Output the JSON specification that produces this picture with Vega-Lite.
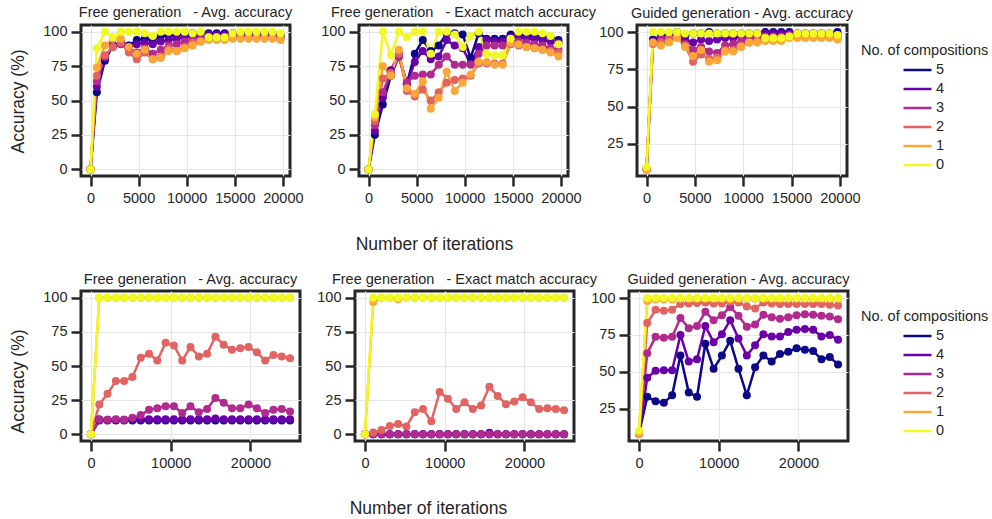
{
"$schema":"https://vega.github.io/schema/vega-lite/v6.json",
"autosize":{"type":"pad"},
"padding":{"left":7,"top":3,"right":0,"bottom":0},
"background":"white",
"datasets":{
"a":[
{"n":5,"x":0,"y":0},{"n":5,"x":660,"y":56},{"n":5,"x":1490,"y":79},{"n":5,"x":2320,"y":90},{"n":5,"x":3150,"y":92},{"n":5,"x":3980,"y":90},{"n":5,"x":4810,"y":94},{"n":5,"x":5640,"y":95},{"n":5,"x":6470,"y":94},{"n":5,"x":7300,"y":97},{"n":5,"x":8130,"y":97},{"n":5,"x":8960,"y":98},{"n":5,"x":9790,"y":98},{"n":5,"x":10620,"y":99},{"n":5,"x":11450,"y":99},{"n":5,"x":12280,"y":99},{"n":5,"x":13110,"y":99},{"n":5,"x":13940,"y":99},{"n":5,"x":14770,"y":99},{"n":5,"x":15600,"y":99},{"n":5,"x":16430,"y":99},{"n":5,"x":17260,"y":99},{"n":5,"x":18090,"y":99},{"n":5,"x":18920,"y":99},{"n":5,"x":19750,"y":98},
{"n":4,"x":0,"y":0},{"n":4,"x":660,"y":60},{"n":4,"x":1490,"y":81},{"n":4,"x":2320,"y":90},{"n":4,"x":3150,"y":92},{"n":4,"x":3980,"y":89},{"n":4,"x":4810,"y":91},{"n":4,"x":5640,"y":92},{"n":4,"x":6470,"y":91},{"n":4,"x":7300,"y":93},{"n":4,"x":8130,"y":94},{"n":4,"x":8960,"y":95},{"n":4,"x":9790,"y":96},{"n":4,"x":10620,"y":97},{"n":4,"x":11450,"y":97},{"n":4,"x":12280,"y":98},{"n":4,"x":13110,"y":98},{"n":4,"x":13940,"y":98},{"n":4,"x":14770,"y":98},{"n":4,"x":15600,"y":98},{"n":4,"x":16430,"y":98},{"n":4,"x":17260,"y":98},{"n":4,"x":18090,"y":98},{"n":4,"x":18920,"y":98},{"n":4,"x":19750,"y":97},
{"n":3,"x":0,"y":0},{"n":3,"x":660,"y":64},{"n":3,"x":1490,"y":82},{"n":3,"x":2320,"y":89},{"n":3,"x":3150,"y":91},{"n":3,"x":3980,"y":87},{"n":3,"x":4810,"y":85},{"n":3,"x":5640,"y":88},{"n":3,"x":6470,"y":84},{"n":3,"x":7300,"y":87},{"n":3,"x":8130,"y":90},{"n":3,"x":8960,"y":91},{"n":3,"x":9790,"y":93},{"n":3,"x":10620,"y":94},{"n":3,"x":11450,"y":95},{"n":3,"x":12280,"y":96},{"n":3,"x":13110,"y":96},{"n":3,"x":13940,"y":96},{"n":3,"x":14770,"y":97},{"n":3,"x":15600,"y":97},{"n":3,"x":16430,"y":97},{"n":3,"x":17260,"y":97},{"n":3,"x":18090,"y":97},{"n":3,"x":18920,"y":97},{"n":3,"x":19750,"y":96},
{"n":2,"x":0,"y":0},{"n":2,"x":660,"y":68},{"n":2,"x":1490,"y":83},{"n":2,"x":2320,"y":89},{"n":2,"x":3150,"y":92},{"n":2,"x":3980,"y":85},{"n":2,"x":4810,"y":80},{"n":2,"x":5640,"y":85},{"n":2,"x":6470,"y":80},{"n":2,"x":7300,"y":82},{"n":2,"x":8130,"y":88},{"n":2,"x":8960,"y":86},{"n":2,"x":9790,"y":89},{"n":2,"x":10620,"y":92},{"n":2,"x":11450,"y":93},{"n":2,"x":12280,"y":95},{"n":2,"x":13110,"y":95},{"n":2,"x":13940,"y":95},{"n":2,"x":14770,"y":96},{"n":2,"x":15600,"y":96},{"n":2,"x":16430,"y":96},{"n":2,"x":17260,"y":96},{"n":2,"x":18090,"y":96},{"n":2,"x":18920,"y":96},{"n":2,"x":19750,"y":95},
{"n":1,"x":0,"y":0},{"n":1,"x":660,"y":74},{"n":1,"x":1490,"y":90},{"n":1,"x":2320,"y":95},{"n":1,"x":3150,"y":95},{"n":1,"x":3980,"y":89},{"n":1,"x":4810,"y":84},{"n":1,"x":5640,"y":87},{"n":1,"x":6470,"y":80},{"n":1,"x":7300,"y":81},{"n":1,"x":8130,"y":86},{"n":1,"x":8960,"y":86},{"n":1,"x":9790,"y":88},{"n":1,"x":10620,"y":90},{"n":1,"x":11450,"y":93},{"n":1,"x":12280,"y":94},{"n":1,"x":13110,"y":94},{"n":1,"x":13940,"y":94},{"n":1,"x":14770,"y":95},{"n":1,"x":15600,"y":95},{"n":1,"x":16430,"y":95},{"n":1,"x":17260,"y":95},{"n":1,"x":18090,"y":95},{"n":1,"x":18920,"y":95},{"n":1,"x":19750,"y":94},
{"n":0,"x":0,"y":0},{"n":0,"x":660,"y":88},{"n":0,"x":1490,"y":100},{"n":0,"x":2320,"y":96},{"n":0,"x":3150,"y":100},{"n":0,"x":3980,"y":100},{"n":0,"x":4810,"y":100},{"n":0,"x":5640,"y":99},{"n":0,"x":6470,"y":97},{"n":0,"x":7300,"y":100},{"n":0,"x":8130,"y":100},{"n":0,"x":8960,"y":100},{"n":0,"x":9790,"y":100},{"n":0,"x":10620,"y":99},{"n":0,"x":11450,"y":100},{"n":0,"x":12280,"y":96},{"n":0,"x":13110,"y":96},{"n":0,"x":13940,"y":96},{"n":0,"x":14770,"y":99},{"n":0,"x":15600,"y":100},{"n":0,"x":16430,"y":100},{"n":0,"x":17260,"y":100},{"n":0,"x":18090,"y":100},{"n":0,"x":18920,"y":100},{"n":0,"x":19750,"y":99}
],
"b":[
{"n":5,"x":0,"y":0},{"n":5,"x":660,"y":25},{"n":5,"x":1490,"y":47},{"n":5,"x":2320,"y":68},{"n":5,"x":3150,"y":82},{"n":5,"x":3980,"y":62},{"n":5,"x":4810,"y":84},{"n":5,"x":5640,"y":94},{"n":5,"x":6470,"y":86},{"n":5,"x":7300,"y":90},{"n":5,"x":8130,"y":99},{"n":5,"x":8960,"y":99},{"n":5,"x":9790,"y":98},{"n":5,"x":10620,"y":81},{"n":5,"x":11450,"y":99},{"n":5,"x":12280,"y":95},{"n":5,"x":13110,"y":95},{"n":5,"x":13940,"y":95},{"n":5,"x":14770,"y":98},{"n":5,"x":15600,"y":98},{"n":5,"x":16430,"y":97},{"n":5,"x":17260,"y":97},{"n":5,"x":18090,"y":96},{"n":5,"x":18920,"y":96},{"n":5,"x":19750,"y":94},
{"n":4,"x":0,"y":0},{"n":4,"x":660,"y":28},{"n":4,"x":1490,"y":52},{"n":4,"x":2320,"y":72},{"n":4,"x":3150,"y":84},{"n":4,"x":3980,"y":62},{"n":4,"x":4810,"y":78},{"n":4,"x":5640,"y":86},{"n":4,"x":6470,"y":80},{"n":4,"x":7300,"y":82},{"n":4,"x":8130,"y":94},{"n":4,"x":8960,"y":90},{"n":4,"x":9790,"y":88},{"n":4,"x":10620,"y":77},{"n":4,"x":11450,"y":89},{"n":4,"x":12280,"y":94},{"n":4,"x":13110,"y":93},{"n":4,"x":13940,"y":93},{"n":4,"x":14770,"y":96},{"n":4,"x":15600,"y":96},{"n":4,"x":16430,"y":95},{"n":4,"x":17260,"y":95},{"n":4,"x":18090,"y":94},{"n":4,"x":18920,"y":93},{"n":4,"x":19750,"y":92},
{"n":3,"x":0,"y":0},{"n":3,"x":660,"y":32},{"n":3,"x":1490,"y":56},{"n":3,"x":2320,"y":70},{"n":3,"x":3150,"y":82},{"n":3,"x":3980,"y":63},{"n":3,"x":4810,"y":68},{"n":3,"x":5640,"y":69},{"n":3,"x":6470,"y":69},{"n":3,"x":7300,"y":76},{"n":3,"x":8130,"y":82},{"n":3,"x":8960,"y":76},{"n":3,"x":9790,"y":76},{"n":3,"x":10620,"y":76},{"n":3,"x":11450,"y":84},{"n":3,"x":12280,"y":90},{"n":3,"x":13110,"y":90},{"n":3,"x":13940,"y":90},{"n":3,"x":14770,"y":93},{"n":3,"x":15600,"y":93},{"n":3,"x":16430,"y":92},{"n":3,"x":17260,"y":91},{"n":3,"x":18090,"y":90},{"n":3,"x":18920,"y":88},{"n":3,"x":19750,"y":87},
{"n":2,"x":0,"y":0},{"n":2,"x":660,"y":35},{"n":2,"x":1490,"y":66},{"n":2,"x":2320,"y":70},{"n":2,"x":3150,"y":84},{"n":2,"x":3980,"y":57},{"n":2,"x":4810,"y":53},{"n":2,"x":5640,"y":58},{"n":2,"x":6470,"y":50},{"n":2,"x":7300,"y":56},{"n":2,"x":8130,"y":63},{"n":2,"x":8960,"y":65},{"n":2,"x":9790,"y":66},{"n":2,"x":10620,"y":68},{"n":2,"x":11450,"y":77},{"n":2,"x":12280,"y":77},{"n":2,"x":13110,"y":77},{"n":2,"x":13940,"y":77},{"n":2,"x":14770,"y":91},{"n":2,"x":15600,"y":90},{"n":2,"x":16430,"y":89},{"n":2,"x":17260,"y":88},{"n":2,"x":18090,"y":87},{"n":2,"x":18920,"y":86},{"n":2,"x":19750,"y":85},
{"n":1,"x":0,"y":0},{"n":1,"x":660,"y":38},{"n":1,"x":1490,"y":75},{"n":1,"x":2320,"y":68},{"n":1,"x":3150,"y":87},{"n":1,"x":3980,"y":59},{"n":1,"x":4810,"y":55},{"n":1,"x":5640,"y":64},{"n":1,"x":6470,"y":44},{"n":1,"x":7300,"y":52},{"n":1,"x":8130,"y":71},{"n":1,"x":8960,"y":57},{"n":1,"x":9790,"y":63},{"n":1,"x":10620,"y":69},{"n":1,"x":11450,"y":78},{"n":1,"x":12280,"y":78},{"n":1,"x":13110,"y":76},{"n":1,"x":13940,"y":76},{"n":1,"x":14770,"y":92},{"n":1,"x":15600,"y":91},{"n":1,"x":16430,"y":89},{"n":1,"x":17260,"y":88},{"n":1,"x":18090,"y":87},{"n":1,"x":18920,"y":85},{"n":1,"x":19750,"y":82},
{"n":0,"x":0,"y":0},{"n":0,"x":660,"y":40},{"n":0,"x":1490,"y":100},{"n":0,"x":2320,"y":83},{"n":0,"x":3150,"y":100},{"n":0,"x":3980,"y":96},{"n":0,"x":4810,"y":100},{"n":0,"x":5640,"y":100},{"n":0,"x":6470,"y":84},{"n":0,"x":7300,"y":100},{"n":0,"x":8130,"y":100},{"n":0,"x":8960,"y":98},{"n":0,"x":9790,"y":89},{"n":0,"x":10620,"y":97},{"n":0,"x":11450,"y":100},{"n":0,"x":12280,"y":84},{"n":0,"x":13110,"y":83},{"n":0,"x":13940,"y":83},{"n":0,"x":14770,"y":95},{"n":0,"x":15600,"y":100},{"n":0,"x":16430,"y":100},{"n":0,"x":17260,"y":100},{"n":0,"x":18090,"y":99},{"n":0,"x":18920,"y":97},{"n":0,"x":19750,"y":91}
],
"c":[
{"n":5,"x":0,"y":8},{"n":5,"x":660,"y":95},{"n":5,"x":1490,"y":97},{"n":5,"x":2320,"y":99},{"n":5,"x":3150,"y":100},{"n":5,"x":3980,"y":97},{"n":5,"x":4810,"y":99},{"n":5,"x":5640,"y":99},{"n":5,"x":6470,"y":100},{"n":5,"x":7300,"y":99},{"n":5,"x":8130,"y":99},{"n":5,"x":8960,"y":99},{"n":5,"x":9790,"y":99},{"n":5,"x":10620,"y":99},{"n":5,"x":11450,"y":99},{"n":5,"x":12280,"y":100},{"n":5,"x":13110,"y":100},{"n":5,"x":13940,"y":100},{"n":5,"x":14770,"y":100},{"n":5,"x":15600,"y":99},{"n":5,"x":16430,"y":99},{"n":5,"x":17260,"y":99},{"n":5,"x":18090,"y":99},{"n":5,"x":18920,"y":99},{"n":5,"x":19750,"y":100},
{"n":4,"x":0,"y":8},{"n":4,"x":660,"y":94},{"n":4,"x":1490,"y":96},{"n":4,"x":2320,"y":97},{"n":4,"x":3150,"y":99},{"n":4,"x":3980,"y":95},{"n":4,"x":4810,"y":93},{"n":4,"x":5640,"y":95},{"n":4,"x":6470,"y":94},{"n":4,"x":7300,"y":95},{"n":4,"x":8130,"y":96},{"n":4,"x":8960,"y":96},{"n":4,"x":9790,"y":97},{"n":4,"x":10620,"y":98},{"n":4,"x":11450,"y":98},{"n":4,"x":12280,"y":99},{"n":4,"x":13110,"y":99},{"n":4,"x":13940,"y":99},{"n":4,"x":14770,"y":99},{"n":4,"x":15600,"y":99},{"n":4,"x":16430,"y":99},{"n":4,"x":17260,"y":99},{"n":4,"x":18090,"y":99},{"n":4,"x":18920,"y":98},{"n":4,"x":19750,"y":98},
{"n":3,"x":0,"y":8},{"n":3,"x":660,"y":93},{"n":3,"x":1490,"y":95},{"n":3,"x":2320,"y":96},{"n":3,"x":3150,"y":98},{"n":3,"x":3980,"y":92},{"n":3,"x":4810,"y":88},{"n":3,"x":5640,"y":90},{"n":3,"x":6470,"y":87},{"n":3,"x":7300,"y":86},{"n":3,"x":8130,"y":91},{"n":3,"x":8960,"y":92},{"n":3,"x":9790,"y":94},{"n":3,"x":10620,"y":96},{"n":3,"x":11450,"y":96},{"n":3,"x":12280,"y":97},{"n":3,"x":13110,"y":97},{"n":3,"x":13940,"y":97},{"n":3,"x":14770,"y":98},{"n":3,"x":15600,"y":98},{"n":3,"x":16430,"y":98},{"n":3,"x":17260,"y":98},{"n":3,"x":18090,"y":98},{"n":3,"x":18920,"y":97},{"n":3,"x":19750,"y":97},
{"n":2,"x":0,"y":8},{"n":2,"x":660,"y":92},{"n":2,"x":1490,"y":93},{"n":2,"x":2320,"y":96},{"n":2,"x":3150,"y":97},{"n":2,"x":3980,"y":91},{"n":2,"x":4810,"y":80},{"n":2,"x":5640,"y":85},{"n":2,"x":6470,"y":82},{"n":2,"x":7300,"y":83},{"n":2,"x":8130,"y":88},{"n":2,"x":8960,"y":88},{"n":2,"x":9790,"y":91},{"n":2,"x":10620,"y":93},{"n":2,"x":11450,"y":94},{"n":2,"x":12280,"y":96},{"n":2,"x":13110,"y":96},{"n":2,"x":13940,"y":96},{"n":2,"x":14770,"y":97},{"n":2,"x":15600,"y":97},{"n":2,"x":16430,"y":97},{"n":2,"x":17260,"y":97},{"n":2,"x":18090,"y":97},{"n":2,"x":18920,"y":97},{"n":2,"x":19750,"y":96},
{"n":1,"x":0,"y":7.5},{"n":1,"x":660,"y":93},{"n":1,"x":1490,"y":91},{"n":1,"x":2320,"y":93},{"n":1,"x":3150,"y":96},{"n":1,"x":3980,"y":90},{"n":1,"x":4810,"y":84},{"n":1,"x":5640,"y":88},{"n":1,"x":6470,"y":80},{"n":1,"x":7300,"y":81},{"n":1,"x":8130,"y":87},{"n":1,"x":8960,"y":87},{"n":1,"x":9790,"y":90},{"n":1,"x":10620,"y":93},{"n":1,"x":11450,"y":93},{"n":1,"x":12280,"y":94},{"n":1,"x":13110,"y":94},{"n":1,"x":13940,"y":94},{"n":1,"x":14770,"y":96},{"n":1,"x":15600,"y":96},{"n":1,"x":16430,"y":96},{"n":1,"x":17260,"y":96},{"n":1,"x":18090,"y":96},{"n":1,"x":18920,"y":96},{"n":1,"x":19750,"y":95},
{"n":0,"x":0,"y":9.5},{"n":0,"x":660,"y":100},{"n":0,"x":1490,"y":100},{"n":0,"x":2320,"y":100},{"n":0,"x":3150,"y":100},{"n":0,"x":3980,"y":99},{"n":0,"x":4810,"y":99},{"n":0,"x":5640,"y":99},{"n":0,"x":6470,"y":99},{"n":0,"x":7300,"y":99},{"n":0,"x":8130,"y":99},{"n":0,"x":8960,"y":99},{"n":0,"x":9790,"y":99},{"n":0,"x":10620,"y":99},{"n":0,"x":11450,"y":99},{"n":0,"x":12280,"y":96},{"n":0,"x":13110,"y":96},{"n":0,"x":13940,"y":96},{"n":0,"x":14770,"y":97},{"n":0,"x":15600,"y":99},{"n":0,"x":16430,"y":99},{"n":0,"x":17260,"y":99},{"n":0,"x":18090,"y":99},{"n":0,"x":18920,"y":99},{"n":0,"x":19750,"y":98}
],
"d":[
{"n":5,"x":0,"y":0},{"n":5,"x":1040,"y":10},{"n":5,"x":2080,"y":10},{"n":5,"x":3120,"y":10},{"n":5,"x":4160,"y":10},{"n":5,"x":5200,"y":10},{"n":5,"x":6240,"y":10},{"n":5,"x":7280,"y":10},{"n":5,"x":8320,"y":10},{"n":5,"x":9360,"y":10},{"n":5,"x":10400,"y":10},{"n":5,"x":11440,"y":10},{"n":5,"x":12480,"y":10},{"n":5,"x":13520,"y":10},{"n":5,"x":14560,"y":10},{"n":5,"x":15600,"y":10},{"n":5,"x":16640,"y":10},{"n":5,"x":17680,"y":10},{"n":5,"x":18720,"y":10},{"n":5,"x":19760,"y":10},{"n":5,"x":20800,"y":10},{"n":5,"x":21840,"y":10},{"n":5,"x":22880,"y":10},{"n":5,"x":23920,"y":10},{"n":5,"x":24960,"y":10},
{"n":4,"x":0,"y":0},{"n":4,"x":1040,"y":11},{"n":4,"x":2080,"y":10.5},{"n":4,"x":3120,"y":10.5},{"n":4,"x":4160,"y":10.5},{"n":4,"x":5200,"y":11},{"n":4,"x":6240,"y":11},{"n":4,"x":7280,"y":11},{"n":4,"x":8320,"y":11},{"n":4,"x":9360,"y":11},{"n":4,"x":10400,"y":11},{"n":4,"x":11440,"y":11},{"n":4,"x":12480,"y":11},{"n":4,"x":13520,"y":11},{"n":4,"x":14560,"y":11},{"n":4,"x":15600,"y":11.5},{"n":4,"x":16640,"y":11},{"n":4,"x":17680,"y":11},{"n":4,"x":18720,"y":11},{"n":4,"x":19760,"y":11},{"n":4,"x":20800,"y":11},{"n":4,"x":21840,"y":11},{"n":4,"x":22880,"y":11},{"n":4,"x":23920,"y":11},{"n":4,"x":24960,"y":11},
{"n":3,"x":0,"y":0},{"n":3,"x":1040,"y":10.6},{"n":3,"x":2080,"y":10.6},{"n":3,"x":3120,"y":11},{"n":3,"x":4160,"y":10.6},{"n":3,"x":5200,"y":12},{"n":3,"x":6240,"y":14},{"n":3,"x":7280,"y":18},{"n":3,"x":8320,"y":19},{"n":3,"x":9360,"y":20.4},{"n":3,"x":10400,"y":20.4},{"n":3,"x":11440,"y":15.5},{"n":3,"x":12480,"y":20.4},{"n":3,"x":13520,"y":16},{"n":3,"x":14560,"y":18.5},{"n":3,"x":15600,"y":26.6},{"n":3,"x":16640,"y":23},{"n":3,"x":17680,"y":19},{"n":3,"x":18720,"y":19},{"n":3,"x":19760,"y":21.7},{"n":3,"x":20800,"y":19},{"n":3,"x":21840,"y":15.5},{"n":3,"x":22880,"y":18},{"n":3,"x":23920,"y":18.5},{"n":3,"x":24960,"y":16.7},
{"n":2,"x":0,"y":0},{"n":2,"x":1040,"y":21.7},{"n":2,"x":2080,"y":29.6},{"n":2,"x":3120,"y":39},{"n":2,"x":4160,"y":39},{"n":2,"x":5200,"y":42},{"n":2,"x":6240,"y":56},{"n":2,"x":7280,"y":59},{"n":2,"x":8320,"y":54},{"n":2,"x":9360,"y":67},{"n":2,"x":10400,"y":65},{"n":2,"x":11440,"y":54},{"n":2,"x":12480,"y":64},{"n":2,"x":13520,"y":57},{"n":2,"x":14560,"y":59},{"n":2,"x":15600,"y":71.5},{"n":2,"x":16640,"y":65.5},{"n":2,"x":17680,"y":62},{"n":2,"x":18720,"y":63},{"n":2,"x":19760,"y":64},{"n":2,"x":20800,"y":60},{"n":2,"x":21840,"y":54},{"n":2,"x":22880,"y":58},{"n":2,"x":23920,"y":57},{"n":2,"x":24960,"y":55.7},
{"n":1,"x":0,"y":0},{"n":1,"x":1040,"y":100},{"n":1,"x":2080,"y":100},{"n":1,"x":3120,"y":100},{"n":1,"x":4160,"y":100},{"n":1,"x":5200,"y":100},{"n":1,"x":6240,"y":100},{"n":1,"x":7280,"y":100},{"n":1,"x":8320,"y":100},{"n":1,"x":9360,"y":100},{"n":1,"x":10400,"y":100},{"n":1,"x":11440,"y":100},{"n":1,"x":12480,"y":100},{"n":1,"x":13520,"y":100},{"n":1,"x":14560,"y":100},{"n":1,"x":15600,"y":100},{"n":1,"x":16640,"y":100},{"n":1,"x":17680,"y":100},{"n":1,"x":18720,"y":100},{"n":1,"x":19760,"y":100},{"n":1,"x":20800,"y":100},{"n":1,"x":21840,"y":100},{"n":1,"x":22880,"y":100},{"n":1,"x":23920,"y":100},{"n":1,"x":24960,"y":100},
{"n":0,"x":0,"y":0},{"n":0,"x":1040,"y":100},{"n":0,"x":2080,"y":100},{"n":0,"x":3120,"y":100},{"n":0,"x":4160,"y":100},{"n":0,"x":5200,"y":100},{"n":0,"x":6240,"y":100},{"n":0,"x":7280,"y":100},{"n":0,"x":8320,"y":100},{"n":0,"x":9360,"y":100},{"n":0,"x":10400,"y":100},{"n":0,"x":11440,"y":100},{"n":0,"x":12480,"y":100},{"n":0,"x":13520,"y":100},{"n":0,"x":14560,"y":100},{"n":0,"x":15600,"y":100},{"n":0,"x":16640,"y":100},{"n":0,"x":17680,"y":100},{"n":0,"x":18720,"y":100},{"n":0,"x":19760,"y":100},{"n":0,"x":20800,"y":100},{"n":0,"x":21840,"y":100},{"n":0,"x":22880,"y":100},{"n":0,"x":23920,"y":100},{"n":0,"x":24960,"y":100}
],
"e":[
{"n":5,"x":0,"y":0},{"n":5,"x":1040,"y":0},{"n":5,"x":2080,"y":0},{"n":5,"x":3120,"y":0},{"n":5,"x":4160,"y":0},{"n":5,"x":5200,"y":0},{"n":5,"x":6240,"y":0},{"n":5,"x":7280,"y":0},{"n":5,"x":8320,"y":0},{"n":5,"x":9360,"y":0},{"n":5,"x":10400,"y":0},{"n":5,"x":11440,"y":0},{"n":5,"x":12480,"y":0},{"n":5,"x":13520,"y":0},{"n":5,"x":14560,"y":0},{"n":5,"x":15600,"y":0},{"n":5,"x":16640,"y":0},{"n":5,"x":17680,"y":0},{"n":5,"x":18720,"y":0},{"n":5,"x":19760,"y":0},{"n":5,"x":20800,"y":0},{"n":5,"x":21840,"y":0},{"n":5,"x":22880,"y":0},{"n":5,"x":23920,"y":0},{"n":5,"x":24960,"y":0},
{"n":4,"x":0,"y":0},{"n":4,"x":1040,"y":0},{"n":4,"x":2080,"y":0},{"n":4,"x":3120,"y":0},{"n":4,"x":4160,"y":0},{"n":4,"x":5200,"y":0},{"n":4,"x":6240,"y":0},{"n":4,"x":7280,"y":0},{"n":4,"x":8320,"y":0},{"n":4,"x":9360,"y":0},{"n":4,"x":10400,"y":0},{"n":4,"x":11440,"y":0},{"n":4,"x":12480,"y":0},{"n":4,"x":13520,"y":0},{"n":4,"x":14560,"y":0},{"n":4,"x":15600,"y":1},{"n":4,"x":16640,"y":0},{"n":4,"x":17680,"y":0},{"n":4,"x":18720,"y":0},{"n":4,"x":19760,"y":0},{"n":4,"x":20800,"y":0},{"n":4,"x":21840,"y":0},{"n":4,"x":22880,"y":0},{"n":4,"x":23920,"y":0},{"n":4,"x":24960,"y":0},
{"n":3,"x":0,"y":0},{"n":3,"x":1040,"y":0},{"n":3,"x":2080,"y":0},{"n":3,"x":3120,"y":0},{"n":3,"x":4160,"y":0},{"n":3,"x":5200,"y":0},{"n":3,"x":6240,"y":0},{"n":3,"x":7280,"y":0},{"n":3,"x":8320,"y":0},{"n":3,"x":9360,"y":0},{"n":3,"x":10400,"y":0},{"n":3,"x":11440,"y":0},{"n":3,"x":12480,"y":0},{"n":3,"x":13520,"y":0},{"n":3,"x":14560,"y":0},{"n":3,"x":15600,"y":0},{"n":3,"x":16640,"y":0},{"n":3,"x":17680,"y":0},{"n":3,"x":18720,"y":0},{"n":3,"x":19760,"y":0},{"n":3,"x":20800,"y":0},{"n":3,"x":21840,"y":0},{"n":3,"x":22880,"y":0},{"n":3,"x":23920,"y":0},{"n":3,"x":24960,"y":0},
{"n":2,"x":0,"y":0},{"n":2,"x":1040,"y":1.2},{"n":2,"x":2080,"y":3},{"n":2,"x":3120,"y":6},{"n":2,"x":4160,"y":7.4},{"n":2,"x":5200,"y":5.7},{"n":2,"x":6240,"y":16},{"n":2,"x":7280,"y":18.5},{"n":2,"x":8320,"y":9.4},{"n":2,"x":9360,"y":31},{"n":2,"x":10400,"y":26},{"n":2,"x":11440,"y":18.5},{"n":2,"x":12480,"y":23.4},{"n":2,"x":13520,"y":18.5},{"n":2,"x":14560,"y":21},{"n":2,"x":15600,"y":34.7},{"n":2,"x":16640,"y":28},{"n":2,"x":17680,"y":22},{"n":2,"x":18720,"y":24},{"n":2,"x":19760,"y":27},{"n":2,"x":20800,"y":23.4},{"n":2,"x":21840,"y":18.5},{"n":2,"x":22880,"y":19},{"n":2,"x":23920,"y":18.5},{"n":2,"x":24960,"y":17.5},
{"n":1,"x":0,"y":0},{"n":1,"x":1040,"y":97},{"n":1,"x":2080,"y":100},{"n":1,"x":3120,"y":100},{"n":1,"x":4160,"y":99},{"n":1,"x":5200,"y":100},{"n":1,"x":6240,"y":100},{"n":1,"x":7280,"y":100},{"n":1,"x":8320,"y":100},{"n":1,"x":9360,"y":100},{"n":1,"x":10400,"y":100},{"n":1,"x":11440,"y":100},{"n":1,"x":12480,"y":100},{"n":1,"x":13520,"y":100},{"n":1,"x":14560,"y":100},{"n":1,"x":15600,"y":100},{"n":1,"x":16640,"y":100},{"n":1,"x":17680,"y":100},{"n":1,"x":18720,"y":100},{"n":1,"x":19760,"y":100},{"n":1,"x":20800,"y":100},{"n":1,"x":21840,"y":100},{"n":1,"x":22880,"y":100},{"n":1,"x":23920,"y":100},{"n":1,"x":24960,"y":100},
{"n":0,"x":0,"y":0},{"n":0,"x":1040,"y":100},{"n":0,"x":2080,"y":100},{"n":0,"x":3120,"y":100},{"n":0,"x":4160,"y":100},{"n":0,"x":5200,"y":100},{"n":0,"x":6240,"y":100},{"n":0,"x":7280,"y":100},{"n":0,"x":8320,"y":100},{"n":0,"x":9360,"y":100},{"n":0,"x":10400,"y":100},{"n":0,"x":11440,"y":100},{"n":0,"x":12480,"y":100},{"n":0,"x":13520,"y":100},{"n":0,"x":14560,"y":100},{"n":0,"x":15600,"y":100},{"n":0,"x":16640,"y":100},{"n":0,"x":17680,"y":100},{"n":0,"x":18720,"y":100},{"n":0,"x":19760,"y":100},{"n":0,"x":20800,"y":100},{"n":0,"x":21840,"y":100},{"n":0,"x":22880,"y":100},{"n":0,"x":23920,"y":100},{"n":0,"x":24960,"y":100}
],
"f":[
{"n":5,"x":0,"y":8},{"n":5,"x":1040,"y":33},{"n":5,"x":2080,"y":30},{"n":5,"x":3120,"y":29},{"n":5,"x":4160,"y":34},{"n":5,"x":5200,"y":61},{"n":5,"x":6240,"y":36},{"n":5,"x":7280,"y":33},{"n":5,"x":8320,"y":69},{"n":5,"x":9360,"y":52},{"n":5,"x":10400,"y":61},{"n":5,"x":11440,"y":71},{"n":5,"x":12480,"y":52},{"n":5,"x":13520,"y":34},{"n":5,"x":14560,"y":53},{"n":5,"x":15600,"y":61},{"n":5,"x":16640,"y":57},{"n":5,"x":17680,"y":62},{"n":5,"x":18720,"y":63.5},{"n":5,"x":19760,"y":66},{"n":5,"x":20800,"y":65},{"n":5,"x":21840,"y":64},{"n":5,"x":22880,"y":58.5},{"n":5,"x":23920,"y":60},{"n":5,"x":24960,"y":55},
{"n":4,"x":0,"y":8},{"n":4,"x":1040,"y":46},{"n":4,"x":2080,"y":50.6},{"n":4,"x":3120,"y":51},{"n":4,"x":4160,"y":51},{"n":4,"x":5200,"y":75},{"n":4,"x":6240,"y":57},{"n":4,"x":7280,"y":58.5},{"n":4,"x":8320,"y":81},{"n":4,"x":9360,"y":70},{"n":4,"x":10400,"y":75.5},{"n":4,"x":11440,"y":85},{"n":4,"x":12480,"y":72.6},{"n":4,"x":13520,"y":61},{"n":4,"x":14560,"y":68},{"n":4,"x":15600,"y":75.5},{"n":4,"x":16640,"y":74},{"n":4,"x":17680,"y":74},{"n":4,"x":18720,"y":77},{"n":4,"x":19760,"y":78.5},{"n":4,"x":20800,"y":79},{"n":4,"x":21840,"y":78.5},{"n":4,"x":22880,"y":74},{"n":4,"x":23920,"y":75},{"n":4,"x":24960,"y":71.7},
{"n":3,"x":0,"y":8},{"n":3,"x":1040,"y":62.6},{"n":3,"x":2080,"y":73.7},{"n":3,"x":3120,"y":73},{"n":3,"x":4160,"y":73.7},{"n":3,"x":5200,"y":86.4},{"n":3,"x":6240,"y":79.6},{"n":3,"x":7280,"y":81},{"n":3,"x":8320,"y":90.7},{"n":3,"x":9360,"y":85},{"n":3,"x":10400,"y":88.4},{"n":3,"x":11440,"y":94},{"n":3,"x":12480,"y":88},{"n":3,"x":13520,"y":80.5},{"n":3,"x":14560,"y":82},{"n":3,"x":15600,"y":88.7},{"n":3,"x":16640,"y":87},{"n":3,"x":17680,"y":86},{"n":3,"x":18720,"y":87},{"n":3,"x":19760,"y":88.4},{"n":3,"x":20800,"y":89},{"n":3,"x":21840,"y":88.7},{"n":3,"x":22880,"y":88},{"n":3,"x":23920,"y":87.5},{"n":3,"x":24960,"y":85.7},
{"n":2,"x":0,"y":8},{"n":2,"x":1040,"y":83},{"n":2,"x":2080,"y":92},{"n":2,"x":3120,"y":91.4},{"n":2,"x":4160,"y":92},{"n":2,"x":5200,"y":96},{"n":2,"x":6240,"y":96.4},{"n":2,"x":7280,"y":96.6},{"n":2,"x":8320,"y":97},{"n":2,"x":9360,"y":96.4},{"n":2,"x":10400,"y":96.4},{"n":2,"x":11440,"y":97.5},{"n":2,"x":12480,"y":97},{"n":2,"x":13520,"y":94.3},{"n":2,"x":14560,"y":93},{"n":2,"x":15600,"y":97},{"n":2,"x":16640,"y":96.4},{"n":2,"x":17680,"y":96},{"n":2,"x":18720,"y":96},{"n":2,"x":19760,"y":96},{"n":2,"x":20800,"y":96},{"n":2,"x":21840,"y":96},{"n":2,"x":22880,"y":96},{"n":2,"x":23920,"y":95.5},{"n":2,"x":24960,"y":95},
{"n":1,"x":0,"y":7.5},{"n":1,"x":1040,"y":98},{"n":1,"x":2080,"y":99},{"n":1,"x":3120,"y":99},{"n":1,"x":4160,"y":99},{"n":1,"x":5200,"y":99.5},{"n":1,"x":6240,"y":99.5},{"n":1,"x":7280,"y":99.5},{"n":1,"x":8320,"y":99.5},{"n":1,"x":9360,"y":99.5},{"n":1,"x":10400,"y":99.5},{"n":1,"x":11440,"y":99},{"n":1,"x":12480,"y":99.5},{"n":1,"x":13520,"y":99.5},{"n":1,"x":14560,"y":99.5},{"n":1,"x":15600,"y":99.5},{"n":1,"x":16640,"y":99.5},{"n":1,"x":17680,"y":99.5},{"n":1,"x":18720,"y":99.5},{"n":1,"x":19760,"y":99.5},{"n":1,"x":20800,"y":99.5},{"n":1,"x":21840,"y":99.5},{"n":1,"x":22880,"y":99.5},{"n":1,"x":23920,"y":99.5},{"n":1,"x":24960,"y":99.5},
{"n":0,"x":0,"y":10},{"n":0,"x":1040,"y":100},{"n":0,"x":2080,"y":100},{"n":0,"x":3120,"y":100},{"n":0,"x":4160,"y":100},{"n":0,"x":5200,"y":100},{"n":0,"x":6240,"y":100},{"n":0,"x":7280,"y":100},{"n":0,"x":8320,"y":100},{"n":0,"x":9360,"y":100},{"n":0,"x":10400,"y":100},{"n":0,"x":11440,"y":100},{"n":0,"x":12480,"y":100},{"n":0,"x":13520,"y":100},{"n":0,"x":14560,"y":100},{"n":0,"x":15600,"y":100},{"n":0,"x":16640,"y":100},{"n":0,"x":17680,"y":100},{"n":0,"x":18720,"y":100},{"n":0,"x":19760,"y":100},{"n":0,"x":20800,"y":100},{"n":0,"x":21840,"y":100},{"n":0,"x":22880,"y":100},{"n":0,"x":23920,"y":100},{"n":0,"x":24960,"y":100}
]
},
"vconcat":[
{"hconcat":[
{"width":209,"height":151,"title":{"text":"Free generation\u00a0\u00a0\u00a0- Avg. accuracy","offset":3},"data":{"name":"a"},
"encoding":{
"x":{"field":"x","type":"quantitative","scale":{"domain":[-990,20740],"nice":false,"zero":false},"axis":{"values":[0,5000,10000,15000,20000],"format":"d","title":null}},
"y":{"field":"y","type":"quantitative","scale":{"domain":[-5,105],"nice":false,"zero":false},"axis":{"values":[0,25,50,75,100],"title":"Accuracy (%)","titleX":-63,"titleY":76,"titleAngle":270,"titleAlign":"center","titleBaseline":"middle"}},
"color":{"field":"n","type":"nominal","scale":{"domain":[5,4,3,2,1,0],"range":["#0d0887","#6a00a8","#b12a90","#e16462","#fca636","#f0f921"]},"legend":null}},
"layer":[{"mark":{"type":"line","strokeWidth":2.5}},{"mark":{"type":"point","filled":true,"size":64,"opacity":1}}]},
{"width":209,"height":151,"title":{"text":"Free generation\u00a0\u00a0\u00a0- Exact match accuracy","offset":3},"data":{"name":"b"},
"encoding":{
"x":{"field":"x","type":"quantitative","scale":{"domain":[-990,20740],"nice":false,"zero":false},"axis":{"values":[0,5000,10000,15000,20000],"format":"d","title":"Number of iterations","titleX":75,"titleY":68,"titleBaseline":"middle","titleAlign":"center"}},
"y":{"field":"y","type":"quantitative","scale":{"domain":[-5,105],"nice":false,"zero":false},"axis":{"values":[0,25,50,75,100],"title":null}},
"color":{"field":"n","type":"nominal","scale":{"domain":[5,4,3,2,1,0],"range":["#0d0887","#6a00a8","#b12a90","#e16462","#fca636","#f0f921"]},"legend":null}},
"layer":[{"mark":{"type":"line","strokeWidth":2.5}},{"mark":{"type":"point","filled":true,"size":64,"opacity":1}}]},
{"width":210,"height":151,"title":{"text":"Guided generation - Avg. accuracy","offset":3},"data":{"name":"c"},
"encoding":{
"x":{"field":"x","type":"quantitative","scale":{"domain":[-990,20740],"nice":false,"zero":false},"axis":{"values":[0,5000,10000,15000,20000],"format":"d","title":null}},
"y":{"field":"y","type":"quantitative","scale":{"domain":[3.5,104.7],"nice":false,"zero":false},"axis":{"values":[25,50,75,100],"title":null}}},
"layer":[
{"mark":{"type":"line","strokeWidth":2.5},"encoding":{"color":{"field":"n","type":"nominal","scale":{"domain":[5,4,3,2,1,0],"range":["#0d0887","#6a00a8","#b12a90","#e16462","#fca636","#f0f921"]},"legend":{"title":"No. of compositions","orient":"none","legendX":224,"legendY":19,"symbolType":"stroke","symbolSize":784,"symbolStrokeWidth":2.5,"clipHeight":19,"rowPadding":0,"symbolOffset":41,"labelOffset":3,"titlePadding":2}}}},
{"mark":{"type":"point","filled":true,"size":64,"opacity":1},"encoding":{"color":{"field":"n","type":"nominal","legend":null}}}]}
],"spacing":69,"bounds":"flush","resolve":{"scale":{"color":"independent"}}},
{"hconcat":[
{"width":219,"height":150,"title":{"text":"Free generation\u00a0\u00a0\u00a0- Avg. accuracy","offset":2.5},"data":{"name":"d"},
"encoding":{
"x":{"field":"x","type":"quantitative","scale":{"domain":[-1248,26208],"nice":false,"zero":false},"axis":{"values":[0,10000,20000],"format":"d","title":null}},
"y":{"field":"y","type":"quantitative","scale":{"domain":[-5,105],"nice":false,"zero":false},"axis":{"values":[0,25,50,75,100],"title":"Accuracy (%)","titleX":-63,"titleY":90,"titleAngle":270,"titleAlign":"center","titleBaseline":"middle"}},
"color":{"field":"n","type":"nominal","scale":{"domain":[5,4,3,2,1,0],"range":["#0d0887","#6a00a8","#b12a90","#e16462","#fca636","#f0f921"]},"legend":null}},
"layer":[{"mark":{"type":"line","strokeWidth":2.5}},{"mark":{"type":"point","filled":true,"size":64,"opacity":1}}]},
{"width":219,"height":150,"title":{"text":"Free generation\u00a0\u00a0\u00a0- Exact match accuracy","offset":2.5},"data":{"name":"e"},
"encoding":{
"x":{"field":"x","type":"quantitative","scale":{"domain":[-1248,26208],"nice":false,"zero":false},"axis":{"values":[0,10000,20000],"format":"d","title":"Number of iterations","titleX":73,"titleY":67,"titleBaseline":"middle","titleAlign":"center"}},
"y":{"field":"y","type":"quantitative","scale":{"domain":[-5,105],"nice":false,"zero":false},"axis":{"values":[0,25,50,75,100],"title":null}},
"color":{"field":"n","type":"nominal","scale":{"domain":[5,4,3,2,1,0],"range":["#0d0887","#6a00a8","#b12a90","#e16462","#fca636","#f0f921"]},"legend":null}},
"layer":[{"mark":{"type":"line","strokeWidth":2.5}},{"mark":{"type":"point","filled":true,"size":64,"opacity":1}}]},
{"width":219,"height":150,"title":{"text":"Guided generation - Avg. accuracy","offset":2.5},"data":{"name":"f"},
"encoding":{
"x":{"field":"x","type":"quantitative","scale":{"domain":[-1248,26208],"nice":false,"zero":false},"axis":{"values":[0,10000,20000],"format":"d","title":null}},
"y":{"field":"y","type":"quantitative","scale":{"domain":[3,104.8],"nice":false,"zero":false},"axis":{"values":[25,50,75,100],"title":null}}},
"layer":[
{"mark":{"type":"line","strokeWidth":2.5},"encoding":{"color":{"field":"n","type":"nominal","scale":{"domain":[5,4,3,2,1,0],"range":["#0d0887","#6a00a8","#b12a90","#e16462","#fca636","#f0f921"]},"legend":{"title":"No. of compositions","orient":"none","legendX":232,"legendY":19,"symbolType":"stroke","symbolSize":784,"symbolStrokeWidth":2.5,"clipHeight":19,"rowPadding":0,"symbolOffset":41,"labelOffset":3,"titlePadding":2}}}},
{"mark":{"type":"point","filled":true,"size":64,"opacity":1},"encoding":{"color":{"field":"n","type":"nominal","legend":null}}}]}
],"spacing":55,"bounds":"flush","resolve":{"scale":{"color":"independent"}}}
],
"spacing":266,
"bounds":"flush",
"resolve":{"scale":{"color":"independent"}},
"config":{
"font":"Liberation Sans",
"view":{"stroke":"#262626","strokeWidth":3},
"axis":{"domain":false,"grid":true,"gridColor":"#e6e6e6","gridWidth":1.2,"tickColor":"#262626","tickWidth":2.5,"tickSize":10,"labelFont":"Liberation Sans","labelFontSize":14.5,"labelColor":"#262626","labelPadding":4,"labelFlush":false,"labelOverlap":false,"titleFont":"Liberation Sans","titleFontSize":17.5,"titleFontWeight":"normal","titleColor":"#262626"},
"axisX":{"labelPadding":5},
"title":{"font":"Liberation Sans","fontSize":14.5,"fontWeight":"normal","color":"#262626","baseline":"alphabetic","anchor":"middle"},
"legend":{"titleFont":"Liberation Sans","labelFont":"Liberation Sans","titleFontSize":14.5,"labelFontSize":14.5,"titleFontWeight":"normal","titleColor":"#262626","labelColor":"#262626","padding":0}
}
}
